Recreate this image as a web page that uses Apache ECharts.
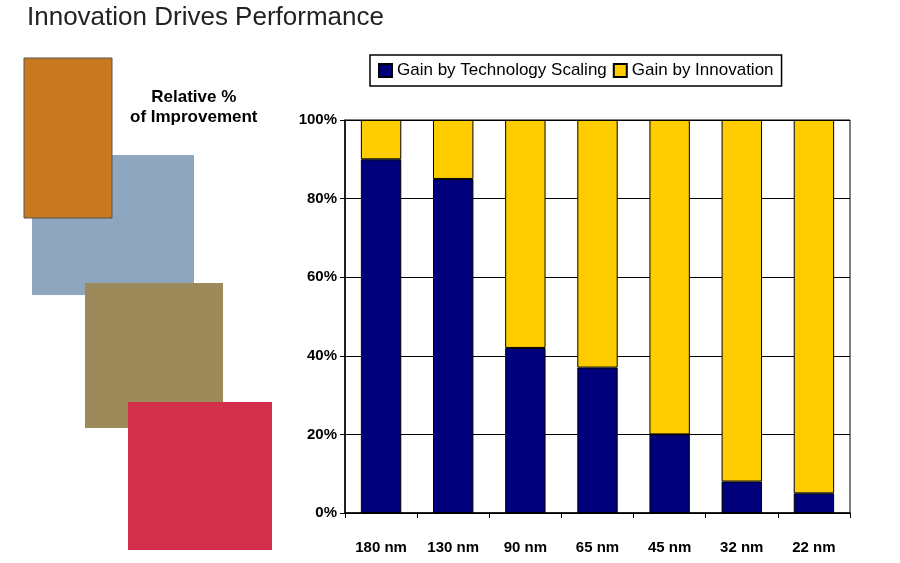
<!DOCTYPE html>
<html>
<head>
<meta charset="utf-8">
<script src="https://cdn.jsdelivr.net/npm/echarts@6/dist/echarts.min.js"></script>
<style>
  html, body { margin: 0; padding: 0; background: #fff; }
  #chart { width: 900px; height: 563px; }
</style>
</head>
<body>
<div id="chart"></div>
<script>
// data
var nodes = ['180 nm', '130 nm', '90 nm', '65 nm', '45 nm', '32 nm', '22 nm'];
var scalingGain = [90, 85, 42, 37, 20, 8, 5];
var innovationGain = [10, 15, 58, 63, 80, 92, 95];

var chart = echarts.init(document.getElementById('chart'));

var option = {
    backgroundColor: '#fff',
    animation: false,
    textStyle: { fontFamily: 'Liberation Sans' },
    title: {
        text: 'Innovation Drives Performance',
        left: 22, top: 0,
        textStyle: { fontSize: 26, fontWeight: 'normal', color: '#222' }
    },
    legend: {
        data: ['Gain by Technology Scaling', 'Gain by Innovation'],
        left: 370, top: 55,
        padding: [7, 8],
        borderColor: '#000', borderWidth: 1.5,
        icon: 'rect',
        itemWidth: 13, itemHeight: 13, itemGap: 6,
        textStyle: { fontSize: 17, color: '#000', fontFamily: 'Liberation Sans' }
    },
    grid: { left: 345, right: 50, top: 120, bottom: 50, show: true, borderColor: '#000', borderWidth: 1 },
    xAxis: {
        type: 'category',
        data: nodes,
        axisLine: { lineStyle: { color: '#000', width: 1.5 } },
        axisTick: { show: true, lineStyle: { color: '#000' } },
        axisLabel: { color: '#000', fontWeight: 'bold', fontSize: 15, margin: 27 }
    },
    yAxis: {
        type: 'value',
        min: 0, max: 100, interval: 20,
        axisLine: { show: true, lineStyle: { color: '#000', width: 1.5 } },
        axisTick: { show: true, lineStyle: { color: '#000' } },
        axisLabel: { color: '#000', fontWeight: 'bold', fontSize: 15, formatter: '{value}%' },
        splitLine: { lineStyle: { color: '#000', width: 1 } }
    },
    series: [{
        name: 'Gain by Technology Scaling',
        type: 'bar', stack: 'total', barWidth: '56%',
        itemStyle: { color: '#00007a', borderColor: '#000', borderWidth: 1 },
        data: scalingGain
    }, {
        name: 'Gain by Innovation',
        type: 'bar', stack: 'total',
        itemStyle: { color: '#ffcc00', borderColor: '#000', borderWidth: 1 },
        data: innovationGain
    }],
    graphic: [
        { type: 'text', left: 130, top: 87, style: { text: 'Relative %\nof Improvement', font: 'bold 17px Liberation Sans', fill: '#000', align: 'center', textAlign: 'center', lineHeight: 20 } },
        // rough stand-ins for the photos on the left
        { type: 'rect', shape: { x: 32, y: 155, width: 162, height: 140 }, style: { fill: '#8fa6bf' } },
        { type: 'rect', shape: { x: 24, y: 58, width: 88, height: 160 }, style: { fill: '#c8781e', stroke: '#555' } },
        { type: 'rect', shape: { x: 85, y: 283, width: 138, height: 145 }, style: { fill: '#9c8a5a' } },
        { type: 'rect', shape: { x: 128, y: 402, width: 144, height: 148 }, style: { fill: '#d2304a' } }
    ]
};

chart.setOption(option);
</script>
</body>
</html>
